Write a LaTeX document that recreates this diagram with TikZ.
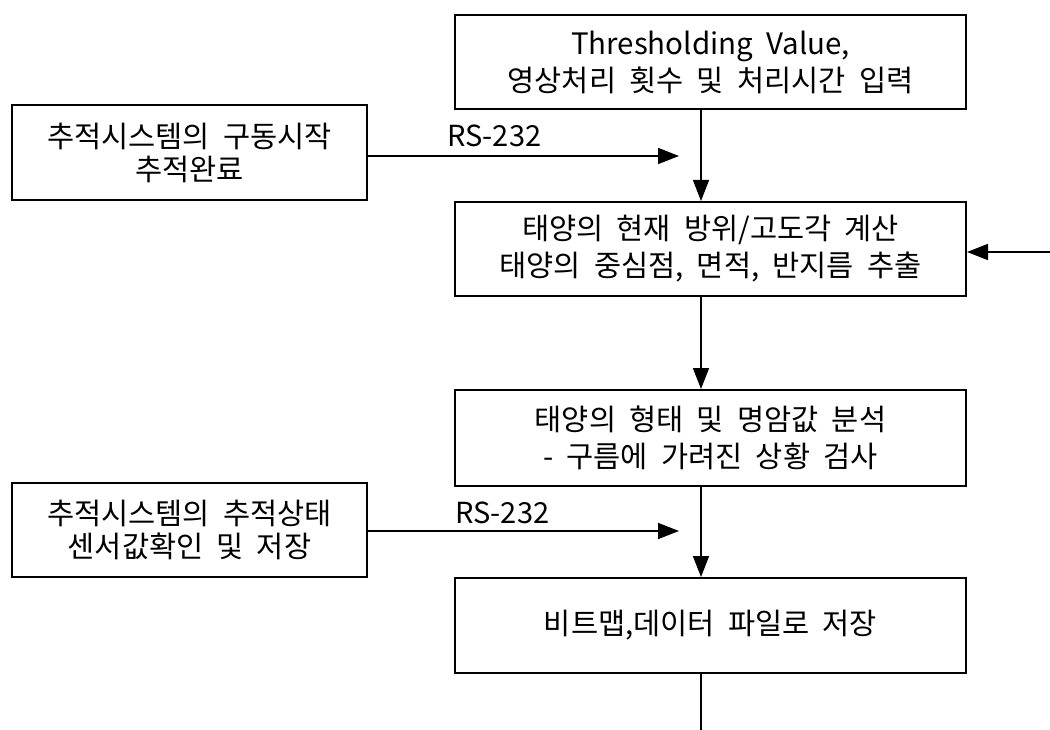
\documentclass[tikz,border=0pt]{standalone}
\usepackage{fontspec}
\setmainfont{Noto Sans CJK KR}[WordSpace=2.0]
\usetikzlibrary{arrows.meta,calc}
\tikzset{
  box/.style={draw=black, line width=2pt, rectangle, inner sep=0pt, align=center,
    font=\fontsize{29.5}{37}\selectfont},
  rbox/.style={box, minimum width=511pt, minimum height=95pt},
  lbox/.style={box, minimum width=355pt, minimum height=95pt, font=\fontsize{29.5}{33}\selectfont},
  arr/.style={line width=1.6pt, -{Triangle[length=21pt,width=16pt]}},
  lbl/.style={font=\fontsize{29}{33}\selectfont, inner sep=0pt}
}
\begin{document}
\begin{tikzpicture}[x=1pt,y=-1pt]
\useasboundingbox (0,0) rectangle (1050,730);
\fill[white] (0,0) rectangle (1050,730);
% right column
\node[rbox, minimum height=94pt] (top) at (710.5,62) {Thresholding Value,\\영상처리 횟수 및 처리시간 입력};
\node[rbox, minimum height=94pt] (b2) at (710.5,249) {태양의 현재 방위/고도각 계산\\태양의 중심점, 면적, 반지름 추출};
\node[rbox, minimum height=96pt] (b3) at (710.5,438) {태양의 형태 및 명암값 분석\\- 구름에 가려진 상황 검사};
\node[rbox, minimum height=95pt] (b4) at (710.5,625.5) {비트맵,데이터 파일로 저장};
% left column
\node[lbox] (l1) at (189.5,152.5) {추적시스템의 구동시작\\추적완료};
\node[lbox, minimum height=94pt] (l2) at (189.5,530) {추적시스템의 추적상태\\센서값확인 및 저장};
% helper coordinates
\coordinate (vx) at (701,0);
\coordinate (rs1) at (679,156);
\coordinate (rs2) at (679,531);
\coordinate (rin) at (1050,252);
\coordinate (bot) at (701,730);
% vertical flow
\draw[arr, line width=1.2pt] (top.south -| vx) -- (b2.north -| vx);
\draw[arr] (b2.south -| vx) -- (b3.north -| vx);
\draw[arr] (b3.south -| vx) -- (b4.north -| vx);
\draw[line width=1.6pt] (b4.south -| vx) -- (bot);
% RS-232 links
\draw[arr] (l1.east |- rs1) -- (rs1);
\node[lbl, anchor=base west] (rsl1) at (447,147) {RS-232};
\draw[arr] (l2.east |- rs2) -- (rs2);
\node[lbl, anchor=base west] (rsl2) at (455,523) {RS-232};
% input from right
\draw[arr] (rin) -- (rin -| b2.east);
\end{tikzpicture}
\end{document}
